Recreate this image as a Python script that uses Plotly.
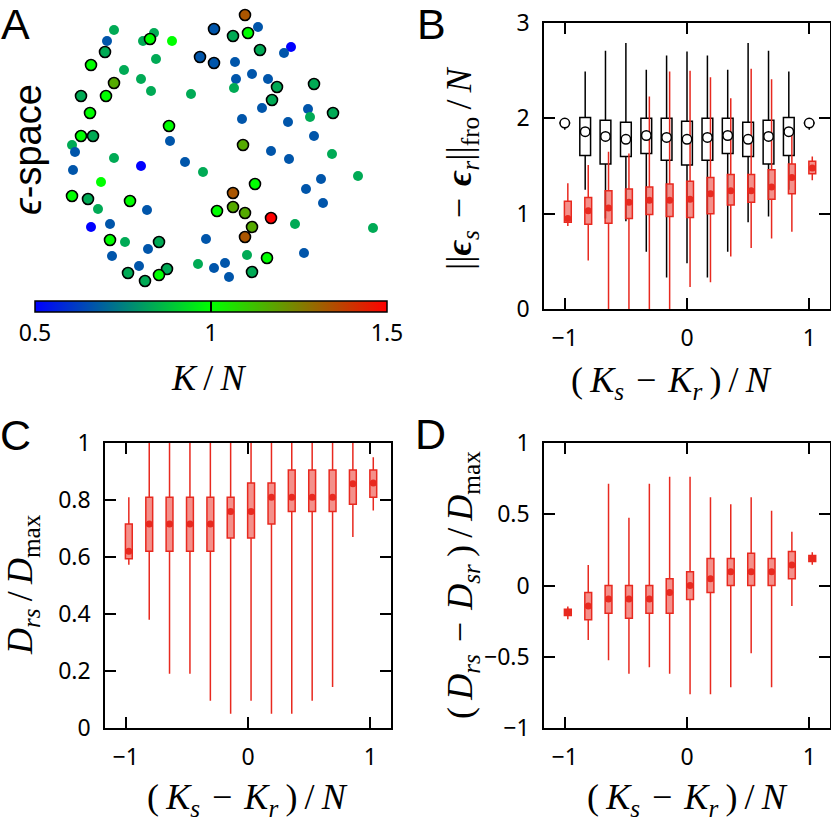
"""Epsilon-space embedding and distance box plots (panels A-D)."""

import plotly.graph_objects as go

W, H = 831, 822

# ---- panel A: points in epsilon-space, colored by K/N ----
plain_x = [114, 107, 154, 143, 172, 156, 124, 141, 151, 191, 258, 291, 284, 235, 252,
           236, 268, 234, 262, 308, 310, 242, 288, 314, 170, 72, 75, 114, 141, 73,
           185, 203, 271, 289, 332, 358, 101, 321, 306, 323, 98, 147, 91, 110, 295,
           373, 125, 148, 112, 206, 247, 304, 139, 198, 214, 225, 229]
plain_y = [30, 41, 33, 41, 41, 59, 70, 79, 91, 94, 27, 47, 53, 62, 74,
           79, 79, 88, 108, 109, 117, 119, 122, 136, 141, 145, 152, 158, 166, 170,
           162, 172, 151, 159, 154, 176, 182, 179, 189, 203, 209, 210, 227, 224, 224,
           228, 242, 249, 256, 239, 255, 253, 266, 264, 268, 263, 277]
plain_k = [0.833, 0.667, 0.833, 0.833, 1.0, 0.833, 0.833, 0.833, 0.833, 0.833, 0.667, 0.5, 0.667, 0.667, 0.667,
           0.667, 0.667, 0.833, 0.667, 0.667, 0.833, 0.667, 0.667, 0.667, 0.667, 0.833, 0.667, 0.833, 0.5, 0.667,
           0.667, 0.833, 0.667, 0.667, 0.833, 0.833, 1.0, 0.667, 0.667, 0.667, 0.833, 0.667, 0.5, 0.667, 0.833,
           0.833, 0.833, 0.667, 0.667, 0.667, 0.833, 0.667, 0.667, 0.833, 0.667, 0.667, 0.667]

ring_x = [245, 214, 233, 248, 260, 200, 214, 150, 105, 91, 114, 106, 81, 90, 81,
          93, 169, 277, 272, 314, 333, 243, 255, 233, 72, 88, 130, 217, 233, 245,
          271, 252, 245, 110, 159, 267, 167, 159, 128, 145, 252]
ring_y = [15, 29, 36, 33, 50, 57, 63, 39, 52, 65, 83, 96, 96, 113, 136,
          136, 126, 87, 100, 84, 113, 145, 184, 193, 196, 199, 201, 211, 207, 213,
          218, 227, 237, 240, 242, 258, 269, 275, 273, 281, 272]
ring_k = [1.333, 0.667, 0.833, 1.0, 0.833, 0.667, 0.667, 1.0, 0.833, 1.0, 1.167, 1.0, 0.833, 1.0, 1.0,
          0.833, 1.0, 0.833, 0.833, 0.833, 0.833, 1.167, 1.0, 1.333, 1.0, 0.833, 1.0, 1.0, 1.167, 1.167,
          1.5, 1.167, 1.333, 1.0, 0.833, 1.0, 0.833, 1.0, 0.833, 0.833, 0.833]

# ---- box plot positions (K_s - K_r)/N ----
dk = [-1, -0.833, -0.667, -0.5, -0.333, -0.167, 0, 0.167, 0.333, 0.5, 0.667, 0.833, 1]

# panel B, random reference (black)
b_rand_lo = [1.88, 1.25, 0.95, 0.92, 0.60, 0.33, 0.48, 0.33, 0.60, 0.91, 0.97, 1.25, 1.88]
b_rand_q1 = [1.95, 1.61, 1.52, 1.60, 1.63, 1.56, 1.51, 1.56, 1.63, 1.60, 1.52, 1.61, 1.95]
b_rand_med = [1.95, 1.86, 1.81, 1.78, 1.82, 1.80, 1.78, 1.80, 1.82, 1.78, 1.81, 1.86, 1.95]
b_rand_q3 = [1.95, 2.01, 1.98, 1.96, 2.00, 2.00, 1.97, 2.00, 2.00, 1.96, 1.98, 2.01, 1.95]
b_rand_hi = [2.00, 2.49, 2.71, 2.79, 2.51, 2.66, 2.70, 2.66, 2.51, 2.79, 2.71, 2.49, 2.00]

# panel B, data (red)
b_lo = [0.87, 0.51, 0, 0, 0, 0, 0.23, 0.28, 0.55, 0.64, 0.74, 0.81, 1.35]
b_q1 = [0.91, 0.89, 0.90, 0.95, 0.99, 0.97, 0.96, 1.00, 1.09, 1.12, 1.15, 1.21, 1.42]
b_med = [0.95, 1.03, 1.06, 1.12, 1.14, 1.14, 1.15, 1.21, 1.24, 1.24, 1.28, 1.38, 1.48]
b_q3 = [1.13, 1.17, 1.24, 1.26, 1.28, 1.31, 1.34, 1.38, 1.41, 1.41, 1.46, 1.52, 1.55]
b_hi = [1.32, 1.51, 1.65, 1.63, 2.23, 2.49, 2.50, 2.43, 2.21, 2.52, 2.41, 1.87, 1.60]

# panel C
c_lo = [0.573, 0.38, 0.19, 0.19, 0.096, 0.05, 0.096, 0.05, 0.05, 0.096, 0.144, 0.67, 0.763]
c_q1 = [0.594, 0.62, 0.62, 0.62, 0.62, 0.667, 0.667, 0.716, 0.76, 0.76, 0.76, 0.785, 0.81]
c_med = [0.62, 0.716, 0.716, 0.716, 0.716, 0.76, 0.76, 0.81, 0.81, 0.81, 0.81, 0.857, 0.86]
c_q3 = [0.716, 0.81, 0.81, 0.81, 0.81, 0.81, 0.86, 0.86, 0.905, 0.905, 0.905, 0.905, 0.905]
c_hi = [0.81, 1, 1, 1, 1, 1, 1, 1, 1, 1, 1, 1, 0.95]

# panel D
d_lo = [-0.237, -0.382, -0.525, -0.62, -0.574, -0.62, -0.763, -0.763, -0.714, -0.475, -0.714, -0.143, 0.145]
d_q1 = [-0.21, -0.241, -0.194, -0.23, -0.194, -0.194, -0.098, -0.049, 0, 0, 0, 0.047, 0.169]
d_med = [-0.187, -0.143, -0.094, -0.094, -0.094, -0.049, 0, 0.047, 0.096, 0.096, 0.096, 0.143, 0.19]
d_q3 = [-0.166, -0.049, 0, 0, 0, 0.047, 0.096, 0.19, 0.19, 0.227, 0.19, 0.239, 0.21]
d_hi = [-0.148, 0.143, 0.714, 0.475, 0.714, 0.763, 0.763, 0.62, 0.571, 0.62, 0.525, 0.377, 0.234]

RED = "#e8291f"
RED_FILL = "rgba(236,70,60,0.6)"
RED_SHIFT = 0.025
TICK_FONT = dict(family="Noto Sans", size=23, color="black")
SERIF = "Liberation Serif"


def px_x(x):
    return x / W


def px_y(y):
    return 1 - y / H


def red_boxes(fig, lo, q1, med, q3, hi, xa, ya):
    xs = [v + RED_SHIFT for v in dk]
    fig.add_trace(go.Box(
        x=xs, q1=q1, median=med, q3=q3, lowerfence=lo, upperfence=hi,
        width=0.056, whiskerwidth=0, fillcolor=RED_FILL,
        line=dict(color=RED, width=1.5), boxpoints=False,
        xaxis=xa, yaxis=ya, showlegend=False, hoverinfo="skip",
    ))
    fig.add_trace(go.Scatter(
        x=xs, y=med, mode="markers", xaxis=xa, yaxis=ya,
        marker=dict(color=RED, size=7), showlegend=False, hoverinfo="skip",
    ))


fig = go.Figure()

# panel A
fig.add_trace(go.Scatter(
    x=plain_x, y=plain_y, mode="markers", xaxis="x", yaxis="y",
    marker=dict(color=plain_k, coloraxis="coloraxis", size=10, line=dict(width=0)),
    showlegend=False,
))
fig.add_trace(go.Scatter(
    x=ring_x, y=ring_y, mode="markers", xaxis="x", yaxis="y",
    marker=dict(color=ring_k, coloraxis="coloraxis", size=11,
                line=dict(color="black", width=1.6)),
    showlegend=False,
))

# panel B: random reference in black
fig.add_trace(go.Box(
    x=dk, q1=b_rand_q1, median=b_rand_med, q3=b_rand_q3,
    lowerfence=b_rand_lo, upperfence=b_rand_hi,
    width=0.088, whiskerwidth=0, fillcolor="white",
    line=dict(color="black", width=1.5), boxpoints=False,
    xaxis="x2", yaxis="y2", showlegend=False, hoverinfo="skip",
))
fig.add_trace(go.Scatter(
    x=dk, y=b_rand_med, mode="markers", xaxis="x2", yaxis="y2",
    marker=dict(color="white", size=9.5, line=dict(color="black", width=1.5)),
    showlegend=False, hoverinfo="skip",
))
red_boxes(fig, b_lo, b_q1, b_med, b_q3, b_hi, "x2", "y2")
red_boxes(fig, c_lo, c_q1, c_med, c_q3, c_hi, "x3", "y3")
red_boxes(fig, d_lo, d_q1, d_med, d_q3, d_hi, "x4", "y4")

box_axis = dict(
    showline=True, linecolor="black", linewidth=1.5, mirror="ticks",
    ticks="inside", ticklen=11, tickwidth=1.5, tickcolor="black",
    showgrid=False, zeroline=False, tickfont=TICK_FONT,
)
x_common = dict(box_axis, range=[-1.17, 1.17], tickvals=[-1, 0, 1], ticklabelstandoff=8)

fig.update_layout(
    width=W, height=H, margin=dict(l=0, r=0, t=0, b=0, autoexpand=False),
    paper_bgcolor="white", plot_bgcolor="white",
    boxmode="overlay",
    xaxis=dict(domain=[0, px_x(400)], range=[0, 400], visible=False),
    yaxis=dict(domain=[px_y(300), 1], range=[300, 0], visible=False),
    xaxis2=dict(x_common, domain=[px_x(544), px_x(830)], anchor="y2"),
    yaxis2=dict(box_axis, domain=[px_y(309), px_y(23)], range=[0, 3], dtick=1,
                anchor="x2", ticklabelstandoff=8),
    xaxis3=dict(x_common, domain=[px_x(105), px_x(391)], anchor="y3"),
    yaxis3=dict(box_axis, domain=[px_y(728), px_y(443)], range=[0, 1], dtick=0.2,
                anchor="x3", ticklabelstandoff=8),
    xaxis4=dict(x_common, domain=[px_x(544), px_x(830)], anchor="y4"),
    yaxis4=dict(box_axis, domain=[px_y(728), px_y(443)], range=[-1, 1], dtick=0.5,
                anchor="x4", ticklabelstandoff=8),
    coloraxis=dict(
        cmin=0.5, cmax=1.5,
        colorscale=[[0, "#0000ff"], [0.5, "#00ff00"], [1, "#ff0000"]],
        colorbar=dict(
            orientation="h", x=px_x(211), xanchor="center",
            y=px_y(301), yanchor="top", len=352 / W, lenmode="fraction",
            thickness=11, thicknessmode="pixels", xpad=0, ypad=0,
            outlinewidth=1.5, outlinecolor="black",
            tickvals=[0.5, 1, 1.5], ticktext=["0.5", "1", "1.5"],
            ticks="inside", ticklen=11, tickwidth=1.5, tickcolor="black",
            tickfont=TICK_FONT,
        ),
    ),
)

TITLE_FONT = dict(family=SERIF, size=36, color="black")
LETTER_FONT = dict(family="Liberation Sans", size=43, color="black")
sp = "\u2009"
minus = "\u2004\u2212\u2004"
x_title = (f"({sp}<i>K</i><sub><i>s</i></sub>{minus}<i>K</i><sub><i>r</i></sub>{sp})"
           f"{sp}/{sp}<i>N</i>")

labels = [
    ("A", 15, 24, 0, LETTER_FONT),
    ("B", 431, 24, 0, LETTER_FONT),
    ("C", 15, 435, 0, LETTER_FONT),
    ("D", 430, 434, 0, LETTER_FONT),
    ("<i>ϵ</i>-space", 28, 150, -90, dict(family="Liberation Sans", size=38, color="black")),
    (f"<i>K</i>{sp}/{sp}<i>N</i>", 208, 378, 0, TITLE_FONT),
    (x_title, 671, 382, 0, TITLE_FONT),
    (x_title, 247, 799, 0, TITLE_FONT),
    (x_title, 687, 799, 0, TITLE_FONT),
    (f"||<b><i>ϵ</i></b><sub><i>s</i></sub>{minus}<b><i>ϵ</i></b><sub><i>r</i></sub>||"
     f"<sub>fro</sub>{sp}/{sp}<i>N</i>", 462, 168, -90, TITLE_FONT),
    (f"<i>D</i><sub><i>rs</i></sub>{sp}/{sp}<i>D</i><sub>max</sub>", 22, 585, -90, TITLE_FONT),
    (f"({sp}<i>D</i><sub><i>rs</i></sub>{minus}<i>D</i><sub><i>sr</i></sub>{sp})"
     f"{sp}/{sp}<i>D</i><sub>max</sub>", 462, 585, -90, TITLE_FONT),
]
for text, x, y, angle, font in labels:
    fig.add_annotation(
        text=text, x=px_x(x), y=px_y(y), xref="paper", yref="paper",
        xanchor="center", yanchor="middle", showarrow=False,
        textangle=angle, font=font,
    )

fig.write_html(
    "out.html",
    config={"displayModeBar": False},
    post_script="document.body.style.margin = '0';",
)
